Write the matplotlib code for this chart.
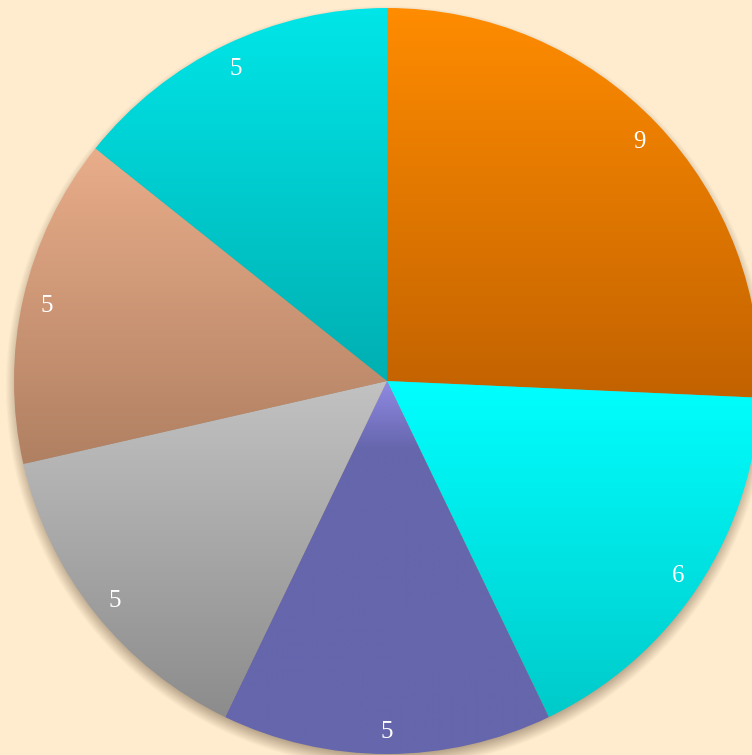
import matplotlib
matplotlib.use('Agg')
import numpy as np
import matplotlib.pyplot as plt
from matplotlib.colors import to_rgb

# slice values, clockwise from 12 o'clock
values = [9, 6, 5, 5, 5, 5]
labels = ['9', '6', '5', '5', '5', '5']
# gradient colours (top, bottom) per slice
top_colors = ['#FF8C00', '#00FFFF', '#908AE4', '#C2C2C2', '#E9AD8A', '#00E6E8']
bottom_colors = ['#C26200', '#00CACA', '#6666AD', '#8C8C8C', '#B08062', '#00AFB2']
ramps = [1.0, 1.0, 0.18, 1.0, 1.0, 1.0]

bg = '#FFEBCD'
R = 373.0
fig = plt.figure(figsize=(7.52, 7.55), dpi=100)
fig.patch.set_facecolor(bg)
ax = fig.add_axes([0, 0, 1, 1])
ax.set_facecolor(bg)
ax.set_xlim(-387 / R, (752 - 387) / R)
ax.set_ylim(-(755 - 381) / R, 381 / R)
ax.set_aspect('equal')
ax.axis('off')

# soft drop shadow
xs = np.linspace(-387 / R, (752 - 387) / R, 760)
ys = np.linspace(-(755 - 381) / R, 381 / R, 760)
X, Y = np.meshgrid(xs, ys)
d = np.sqrt(X ** 2 + (Y + 6 / R) ** 2)
a = np.clip((1 + 9 / R - d) / (18 / R), 0, 1)
sh = np.zeros(X.shape + (4,))
sh[..., :3] = to_rgb('#5a4630')
sh[..., 3] = 0.55 * a
ax.imshow(sh, extent=(xs[0], xs[-1], ys[0], ys[-1]), origin='lower', zorder=0,
          interpolation='bilinear')

wedges, texts = ax.pie(values, labels=labels, startangle=90, counterclock=False,
                       radius=1, labeldistance=0.935,
                       wedgeprops=dict(linewidth=0),
                       textprops=dict(color='white', fontsize=18,
                                      family='Liberation Serif'))
for t in texts:
    t.set_ha('center')
    t.set_va('center_baseline')
    t.set_zorder(5)

for w, c1, c2, rp in zip(wedges, top_colors, bottom_colors, ramps):
    w.set_facecolor('none')
    ext = w.get_path().get_extents()
    t = np.linspace(0, 1, 256)
    t = np.clip(t / rp, 0, 1)
    grad = (1 - t)[:, None] * np.array(to_rgb(c1)) + t[:, None] * np.array(to_rgb(c2))
    img = grad[:, None, :]
    im = ax.imshow(img, extent=(ext.x0, ext.x1, ext.y0, ext.y1), origin='upper',
                   aspect='auto', zorder=2, interpolation='bilinear')
    im.set_clip_path(w)

ax.set_xlim(-387 / R, (752 - 387) / R)
ax.set_ylim(-(755 - 381) / R, 381 / R)
plt.savefig('out.png', dpi=100, facecolor=bg)
